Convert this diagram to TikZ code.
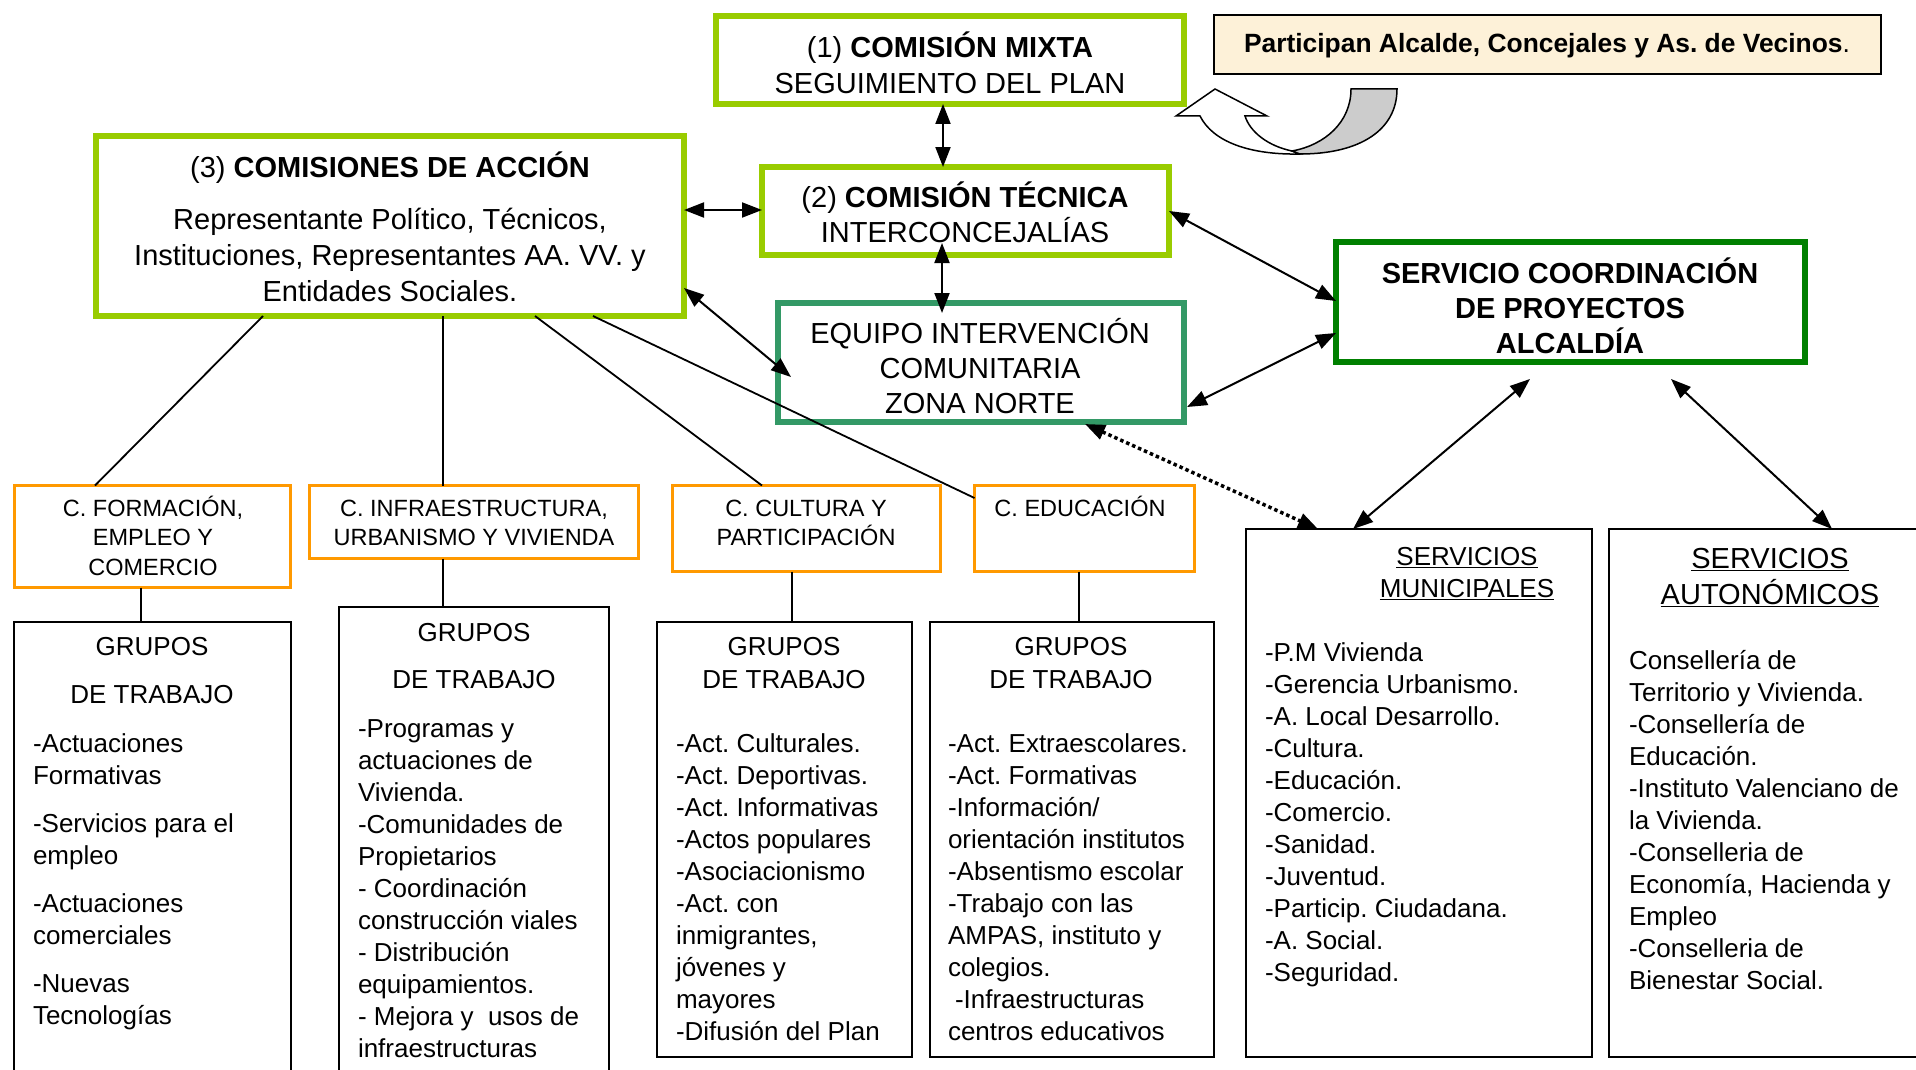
\documentclass[tikz,border=0pt]{standalone}
\usepackage{fontspec}
\setmainfont{Liberation Sans}
\usetikzlibrary{arrows.meta,calc}
\definecolor{lgreen}{HTML}{99CC00}
\definecolor{tealg}{HTML}{339966}
\definecolor{dgreen}{HTML}{008000}
\definecolor{orng}{HTML}{FF9900}
\definecolor{beige}{RGB}{253,241,216}
\definecolor{arrgray}{RGB}{204,204,204}
\newcommand\mys{\rule{0pt}{1em}}
\frenchspacing
\begin{document}
\begin{tikzpicture}[x=1pt,y=-1pt,
  box/.style={draw, inner sep=0pt, outer sep=0pt},
  gbox/.style={box, draw=lgreen, line width=6pt},
  obox/.style={box, draw=orng, line width=3pt},
  kbox/.style={box, draw=black, line width=2.5pt},
  txt/.style={inner sep=0pt, outer sep=0pt, anchor=north},
  ltxt/.style={inner sep=0pt, outer sep=0pt, anchor=north west, align=left, font=\fontsize{26}{32}\selectfont\frenchspacing},
  big/.style={font=\fontsize{29}{35}\selectfont, align=center},
  mid/.style={font=\fontsize{26}{32}\selectfont, align=center},
  sml/.style={font=\fontsize{23.5}{29.5}\selectfont, align=center},
  tip/.tip={Triangle[length=20pt,width=15pt]},
  conn/.style={line width=2pt, tip-tip},
  plain/.style={line width=1.8pt},
  dots/.style={line width=3.5pt, dash pattern=on 3.5pt off 3pt, tip-tip}
]
\useasboundingbox (0,0) rectangle (1916,1070);
\clip (0,0) rectangle (1916,1070);

% ---- boxes ----
\node[gbox, minimum width=468pt, minimum height=88pt] (mixta) at (950,60) {};
\node[gbox, minimum width=407pt, minimum height=88pt] (tec) at (965.5,211) {};
\node[gbox, minimum width=588pt, minimum height=180pt] (com) at (390,226) {};
\node[box, draw=tealg, line width=6pt, minimum width=406pt, minimum height=119pt] (equipo) at (981,362.5) {};
\node[box, draw=dgreen, line width=6pt, minimum width=469pt, minimum height=120pt] (serv) at (1570.5,302) {};
\node[box, draw=black, line width=2pt, fill=beige, minimum width=667pt, minimum height=59pt] (part) at (1547.5,44.5) {};

\node[obox, minimum width=276pt, minimum height=102pt] (form) at (152.5,536.5) {};
\node[obox, minimum width=329pt, minimum height=73pt] (infra) at (474,522) {};
\node[obox, minimum width=268pt, minimum height=86pt] (cult) at (806.5,528.5) {};
\node[obox, minimum width=220pt, minimum height=86pt] (edu) at (1084.5,528.5) {};

\node[kbox, minimum width=277pt, minimum height=463pt] (g1) at (152.5,853.5) {};
\node[kbox, minimum width=270pt, minimum height=478pt] (g2) at (474,846) {};
\node[kbox, minimum width=255pt, minimum height=435pt] (g3) at (784.5,839.5) {};
\node[kbox, minimum width=284pt, minimum height=435pt] (g4) at (1072,839.5) {};
\node[kbox, minimum width=346pt, minimum height=528pt] (muni) at (1419,793) {};
\node[kbox, minimum width=312pt, minimum height=528pt] (auto) at (1765,793) {};

% ---- texts of upper boxes ----
\node[txt, big, font=\fontsize{29}{36}\selectfont] (tmixta) at (950,28.4) {\mys(1) \textbf{COMISIÓN MIXTA}\\SEGUIMIENTO DEL PLAN};
\node[txt, big] (ttec) at (965,178.4) {\mys(2) \textbf{COMISIÓN TÉCNICA}\\INTERCONCEJALÍAS};
\node[txt, big, font=\fontsize{29}{36}\selectfont] (tcom) at (390,148.4) {\mys(3) \textbf{COMISIONES DE ACCIÓN}\\[16pt]Representante Político, Técnicos,\\Instituciones, Representantes AA. VV. y\\Entidades Sociales.};
\node[txt, big] (tequipo) at (980,314.4) {\mys EQUIPO INTERVENCIÓN\\COMUNITARIA\\ZONA NORTE};
\node[txt, big, font=\fontsize{29}{35}\bfseries] (tserv) at (1570,254.4) {\mys SERVICIO COORDINACIÓN\\DE PROYECTOS\\ALCALDÍA};
\node[txt, font=\fontsize{26.4}{32}\selectfont] (tpart) at (1547,26) {\mys\textbf{Participan Alcalde, Concejales y As. de Vecinos}.};

% ---- texts of committees ----
\node[txt, sml] (tform) at (153,492.9) {\mys C. FORMACIÓN,\\EMPLEO Y\\COMERCIO};
\node[txt, sml] (tinfra) at (474,492.9) {\mys C. INFRAESTRUCTURA,\\URBANISMO Y VIVIENDA};
\node[txt, sml] (tcult) at (806,492.9) {\mys C. CULTURA Y\\PARTICIPACIÓN};
\node[txt, sml] (tedu) at (1080,492.9) {\mys C. EDUCACIÓN};

% ---- working groups ----
\node[txt, mid] (h1) at (152,629.3) {\mys GRUPOS\\[16pt]DE TRABAJO};
\node[ltxt] (l1) at (33,726.3) {\mys -Actuaciones\\Formativas\\[16pt]-Servicios para el\\empleo\\[16pt]-Actuaciones\\comerciales\\[16pt]-Nuevas\\Tecnologías};

\node[txt, mid] (h2) at (474,615.3) {\mys GRUPOS\\[15pt]DE TRABAJO};
\node[ltxt] (l2) at (358,711.3) {\mys -Programas y\\actuaciones de\\Vivienda.\\-Comunidades de\\Propietarios\\- Coordinación\\construcción viales\\- Distribución\\equipamientos.\\- Mejora y\ \ usos de\\infraestructuras};

\node[txt, mid] (h3) at (784,629.3) {\mys GRUPOS\\[1pt]DE TRABAJO};
\node[ltxt] (l3) at (676,726.3) {\mys -Act. Culturales.\\-Act. Deportivas.\\-Act. Informativas\\-Actos populares\\-Asociacionismo\\-Act. con\\inmigrantes,\\jóvenes y\\mayores\\-Difusión del Plan};

\node[txt, mid] (h4) at (1071,629.3) {\mys GRUPOS\\[1pt]DE TRABAJO};
\node[ltxt] (l4) at (948,726.3) {\mys -Act. Extraescolares.\\-Act. Formativas\\-Información/\\orientación institutos\\-Absentismo escolar\\-Trabajo con las\\AMPAS, instituto y\\colegios.\\\hspace*{7pt}-Infraestructuras\\centros educativos};

\node[txt, mid] (hmuni) at (1467,539.3) {\mys\underline{SERVICIOS}\\\underline{MUNICIPALES}};
\node[ltxt] (lmuni) at (1265,635.3) {\mys -P.M Vivienda\\-Gerencia Urbanismo.\\-A. Local Desarrollo.\\-Cultura.\\-Educación.\\-Comercio.\\-Sanidad.\\-Juventud.\\-Particip. Ciudadana.\\-A. Social.\\-Seguridad.};

\node[txt, big, font=\fontsize{29}{36}\selectfont] (hauto) at (1770,539.4) {\mys\underline{SERVICIOS}\\\underline{AUTONÓMICOS}};
\node[ltxt] (lauto) at (1629,643.3) {\mys Consellería de\\Territorio y Vivienda.\\-Consellería de\\Educación.\\-Instituto Valenciano de\\la Vivienda.\\-Conselleria de\\Economía, Hacienda y\\Empleo\\-Conselleria de\\Bienestar Social.};

% ---- curved arrow ----
\draw[line width=1.5pt, fill=white] (1292,151) .. controls (1268,146) and (1250,132) .. (1245,116) -- (1267,116) -- (1215,89) -- (1176,116) -- (1200,116) .. controls (1213,142) and (1250,155) .. (1300,154) -- cycle;
\draw[line width=1.5pt, fill=arrgray] (1351,89) -- (1397,89) .. controls (1397,130) and (1360,154) .. (1300,154) -- (1292,151) .. controls (1325,145) and (1351,122) .. (1351,89) -- cycle;

% ---- connectors ----
\draw[conn] ($(mixta.south)+(-7,0)$) -- ($(tec.north)+(-22.5,0)$);
\draw[conn] ($(tec.south)+(-23.5,-12)$) -- ($(equipo.north)+(-39,10)$);
\draw[conn] ($(com.east)+(0,-16)$) -- ($(tec.west)+(0,-1)$);
\draw[conn] ($(com.east)+(0,62)$) -- ($(equipo.west)+(13,14.5)$);
\draw[conn] (tec.east) -- ($(serv.west)+(0,-1)$);
\draw[conn] ($(equipo.east)+(3,44.5)$) -- ($(serv.west)+(0,31)$);
\draw[dots] ($(equipo.south)+(104,2)$) -- ($(muni.north)+(-101,0)$);
\draw[conn] ($(serv.south)+(-40.5,17)$) -- ($(muni.north)+(-66,0)$);
\draw[conn] ($(serv.south)+(100.5,17)$) -- ($(auto.north)+(67,0)$);

\draw[plain] ($(com.south)+(-127,0)$) -- ($(form.north)+(-57.5,0)$);
\draw[plain] ($(com.south)+(53,0)$) -- ($(infra.north)+(-31,0)$);
\draw[plain] ($(com.south)+(145,0)$) -- ($(cult.north)+(-44.5,0)$);
\draw[plain] ($(com.south)+(203,0)$) -- ($(edu.west)+(0,-30.5)$);
\draw[plain] ($(form.south)+(-11.5,0)$) -- ($(g1.north)+(-11.5,0)$);
\draw[plain] ($(infra.south)+(-31,0)$) -- ($(g2.north)+(-31,0)$);
\draw[plain] ($(cult.south)+(-14.5,0)$) -- ($(g3.north)+(7.5,0)$);
\draw[plain] ($(edu.south)+(-5.5,0)$) -- ($(g4.north)+(7,0)$);
\end{tikzpicture}
\end{document}
